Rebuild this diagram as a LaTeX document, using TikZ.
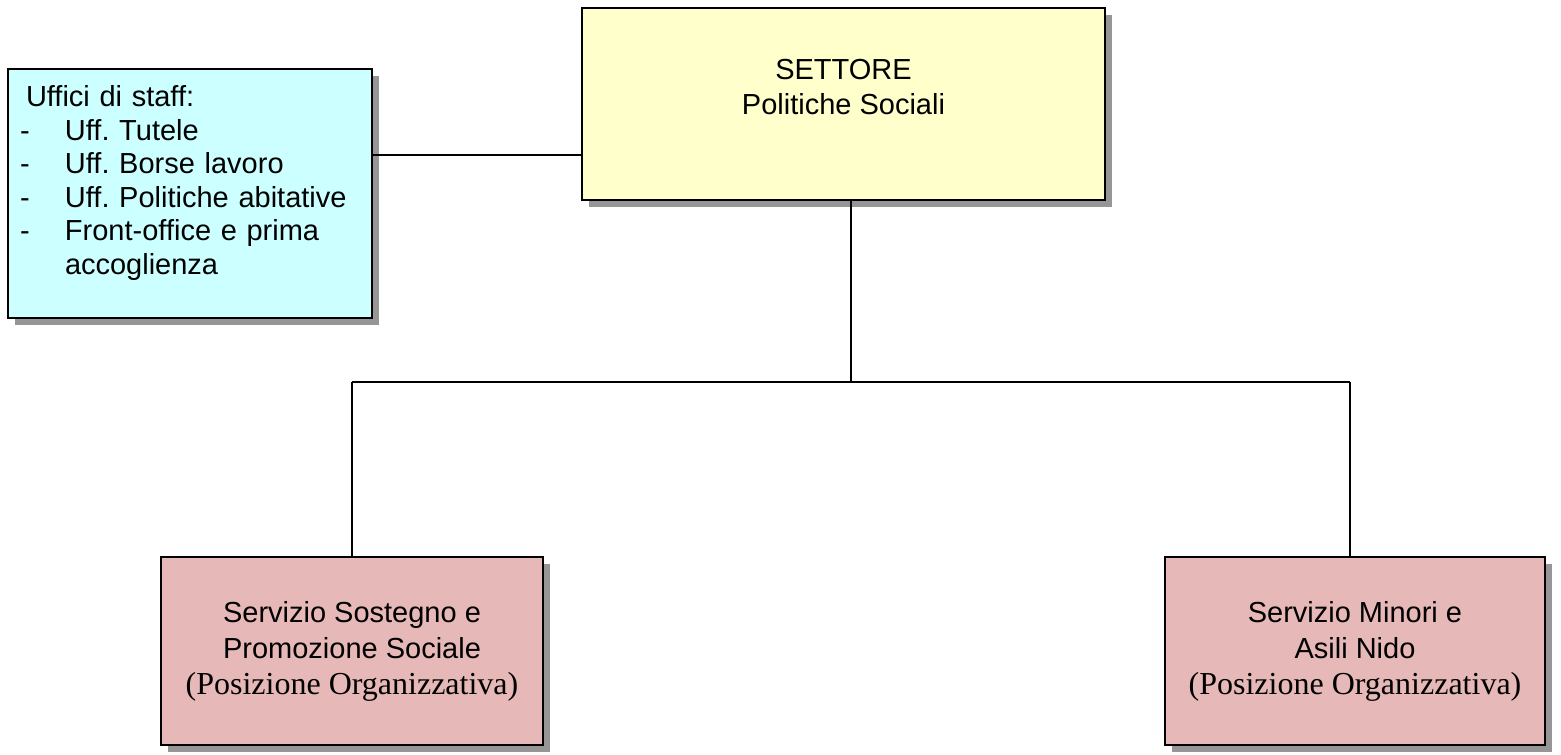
\documentclass[tikz,border=0pt]{standalone}
\usepackage{fontspec}
\setmainfont{Liberation Sans}
\newfontfamily\timesfont{Liberation Serif}
\usetikzlibrary{shadows}
\frenchspacing
\definecolor{staffcol}{RGB}{204,255,255}
\definecolor{settcol}{RGB}{255,255,204}
\definecolor{servcol}{RGB}{230,184,183}
\definecolor{shadcol}{RGB}{150,150,150}
\newcommand{\itemdash}{\makebox[45pt][l]{-}}
\newcommand{\posorg}{{\timesfont\fontsize{32}{36}\selectfont (Posizione Organizzativa)}}
\begin{document}
\begin{tikzpicture}[x=1pt,y=-1pt,
  orgbox/.style={draw=black, line width=2.5pt, rectangle, inner sep=0pt,
    drop shadow={shadow xshift=7pt, shadow yshift=-7pt, fill=shadcol, opacity=1}},
  conn/.style={draw=black, line width=2pt},
  thinconn/.style={draw=black, line width=1.5pt},
  mainfs/.style={font=\frenchspacing\fontsize{29}{#1}\selectfont}]
\useasboundingbox (0,0) rectangle (1561,755);
\node[orgbox, fill=staffcol, minimum width=364pt, minimum height=249pt, text width=340pt, align=left, mainfs=33.5] (staff) at (190,193.5)
  {\hspace*{6pt}Uffici di staff:\\
   \itemdash Uff. Tutele\\
   \itemdash Uff. Borse lavoro\\
   \itemdash Uff. Politiche abitative\\
   \itemdash Front-office e prima\\
   \hspace*{45pt}accoglienza\\[-6pt]\mbox{}};
\node[orgbox, fill=settcol, minimum width=523pt, minimum height=192pt, align=center, mainfs=35] (sett) at (843.5,104)
  {SETTORE\\Politiche Sociali\\\mbox{}};
\node[orgbox, fill=servcol, minimum width=382pt, minimum height=188pt, align=center, mainfs=36] (sl) at (352,651)
  {Servizio Sostegno e\\Promozione Sociale\\\posorg};
\node[orgbox, fill=servcol, minimum width=380pt, minimum height=188pt, align=center, mainfs=36] (sr) at (1355,651)
  {Servizio Minori e\\Asili Nido\\\posorg};
\coordinate (mid) at (851,297);
\coordinate (j) at (851,382);
\coordinate (jl) at (352,382);
\coordinate (jr) at (1350,382);
\draw[thinconn] (staff.east |- 0,155) -- (sett.west |- 0,155);
\draw[thinconn] (mid |- sett.south) -- (mid);
\draw[conn] (mid) -- (j);
\draw[conn] (jl) -- (jr);
\draw[conn] (jl) -- (sl.north);
\draw[conn] (jr) -- (jr |- sr.north);
\end{tikzpicture}
\end{document}
